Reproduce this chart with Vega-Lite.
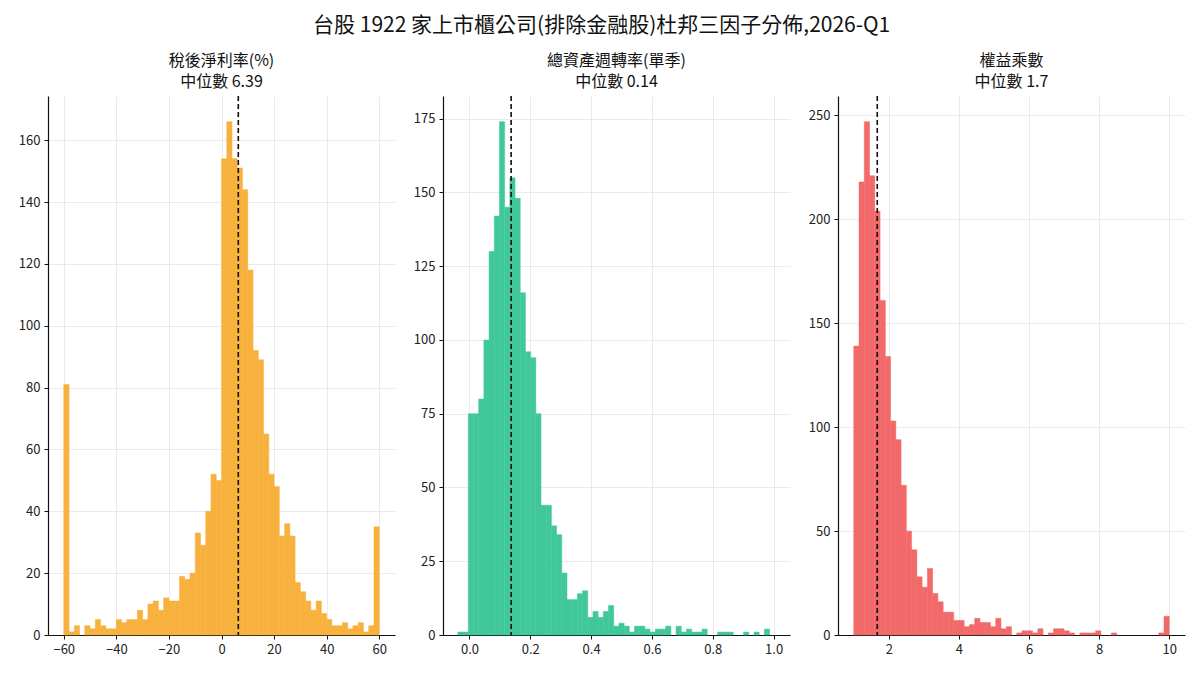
{
  "$schema": "https://vega.github.io/schema/vega-lite/v6.json",
  "padding": {"left": 18, "top": 15, "right": 10, "bottom": 5},
  "background": "white",
  "title": {
    "text": "台股 1922 家上市櫃公司(排除金融股)杜邦三因子分佈,2026-Q1",
    "fontSize": 21,
    "fontWeight": "normal",
    "font": "Noto Sans CJK TC",
    "color": "#111111",
    "anchor": "middle",
    "offset": 17
  },
  "bounds": "flush",
  "spacing": 48,
  "datasets": {
    "margin": [
      {"x0": -60, "x1": -58, "n": 81}, {"x0": -58, "x1": -56, "n": 1}, {"x0": -56, "x1": -54, "n": 3},
      {"x0": -52, "x1": -50, "n": 3}, {"x0": -50, "x1": -48, "n": 2}, {"x0": -48, "x1": -46, "n": 5},
      {"x0": -46, "x1": -44, "n": 3}, {"x0": -44, "x1": -42, "n": 2}, {"x0": -42, "x1": -40, "n": 2},
      {"x0": -40, "x1": -38, "n": 5}, {"x0": -38, "x1": -36, "n": 4}, {"x0": -36, "x1": -34, "n": 5},
      {"x0": -34, "x1": -32, "n": 5}, {"x0": -32, "x1": -30, "n": 8}, {"x0": -30, "x1": -28, "n": 5},
      {"x0": -28, "x1": -26, "n": 10}, {"x0": -26, "x1": -24, "n": 11}, {"x0": -24, "x1": -22, "n": 8},
      {"x0": -22, "x1": -20, "n": 12}, {"x0": -20, "x1": -18, "n": 11}, {"x0": -18, "x1": -16, "n": 11},
      {"x0": -16, "x1": -14, "n": 19}, {"x0": -14, "x1": -12, "n": 18}, {"x0": -12, "x1": -10, "n": 20},
      {"x0": -10, "x1": -8, "n": 33}, {"x0": -8, "x1": -6, "n": 29}, {"x0": -6, "x1": -4, "n": 40},
      {"x0": -4, "x1": -2, "n": 52}, {"x0": -2, "x1": 0, "n": 50}, {"x0": 0, "x1": 2, "n": 154},
      {"x0": 2, "x1": 4, "n": 166}, {"x0": 4, "x1": 6, "n": 154}, {"x0": 6, "x1": 8, "n": 151},
      {"x0": 8, "x1": 10, "n": 144}, {"x0": 10, "x1": 12, "n": 118}, {"x0": 12, "x1": 14, "n": 92},
      {"x0": 14, "x1": 16, "n": 89}, {"x0": 16, "x1": 18, "n": 65}, {"x0": 18, "x1": 20, "n": 52},
      {"x0": 20, "x1": 22, "n": 48}, {"x0": 22, "x1": 24, "n": 32}, {"x0": 24, "x1": 26, "n": 36},
      {"x0": 26, "x1": 28, "n": 32}, {"x0": 28, "x1": 30, "n": 17}, {"x0": 30, "x1": 32, "n": 14},
      {"x0": 32, "x1": 34, "n": 11}, {"x0": 34, "x1": 36, "n": 8}, {"x0": 36, "x1": 38, "n": 11},
      {"x0": 38, "x1": 40, "n": 7}, {"x0": 40, "x1": 42, "n": 5}, {"x0": 42, "x1": 44, "n": 3},
      {"x0": 44, "x1": 46, "n": 3}, {"x0": 46, "x1": 48, "n": 4}, {"x0": 48, "x1": 50, "n": 2},
      {"x0": 50, "x1": 52, "n": 3}, {"x0": 52, "x1": 54, "n": 4}, {"x0": 54, "x1": 56, "n": 1},
      {"x0": 56, "x1": 58, "n": 3}, {"x0": 58, "x1": 60, "n": 35}
    ],
    "turnover": [
      {"x0": -0.0380, "x1": -0.0209, "n": 1}, {"x0": -0.0209, "x1": -0.0038, "n": 1},
      {"x0": -0.0038, "x1": 0.0132, "n": 75}, {"x0": 0.0132, "x1": 0.0303, "n": 75},
      {"x0": 0.0303, "x1": 0.0474, "n": 80}, {"x0": 0.0474, "x1": 0.0645, "n": 100},
      {"x0": 0.0645, "x1": 0.0816, "n": 130}, {"x0": 0.0816, "x1": 0.0986, "n": 142},
      {"x0": 0.0986, "x1": 0.1157, "n": 174}, {"x0": 0.1157, "x1": 0.1328, "n": 145},
      {"x0": 0.1328, "x1": 0.1499, "n": 155}, {"x0": 0.1499, "x1": 0.1670, "n": 148},
      {"x0": 0.1670, "x1": 0.1840, "n": 116}, {"x0": 0.1840, "x1": 0.2011, "n": 96},
      {"x0": 0.2011, "x1": 0.2182, "n": 94}, {"x0": 0.2182, "x1": 0.2353, "n": 75},
      {"x0": 0.2353, "x1": 0.2524, "n": 44}, {"x0": 0.2524, "x1": 0.2694, "n": 44},
      {"x0": 0.2694, "x1": 0.2865, "n": 37}, {"x0": 0.2865, "x1": 0.3036, "n": 34},
      {"x0": 0.3036, "x1": 0.3207, "n": 21}, {"x0": 0.3207, "x1": 0.3378, "n": 12},
      {"x0": 0.3378, "x1": 0.3548, "n": 12}, {"x0": 0.3548, "x1": 0.3719, "n": 14},
      {"x0": 0.3719, "x1": 0.3890, "n": 15}, {"x0": 0.3890, "x1": 0.4061, "n": 6},
      {"x0": 0.4061, "x1": 0.4232, "n": 8}, {"x0": 0.4232, "x1": 0.4402, "n": 6},
      {"x0": 0.4402, "x1": 0.4573, "n": 8}, {"x0": 0.4573, "x1": 0.4744, "n": 10},
      {"x0": 0.4744, "x1": 0.4915, "n": 3}, {"x0": 0.4915, "x1": 0.5086, "n": 4},
      {"x0": 0.5086, "x1": 0.5256, "n": 3}, {"x0": 0.5256, "x1": 0.5427, "n": 1},
      {"x0": 0.5427, "x1": 0.5598, "n": 3}, {"x0": 0.5598, "x1": 0.5769, "n": 3},
      {"x0": 0.5769, "x1": 0.5940, "n": 2}, {"x0": 0.5940, "x1": 0.6110, "n": 1},
      {"x0": 0.6110, "x1": 0.6281, "n": 2}, {"x0": 0.6281, "x1": 0.6452, "n": 2},
      {"x0": 0.6452, "x1": 0.6623, "n": 3}, {"x0": 0.6794, "x1": 0.6964, "n": 3},
      {"x0": 0.6964, "x1": 0.7135, "n": 1}, {"x0": 0.7135, "x1": 0.7306, "n": 2},
      {"x0": 0.7306, "x1": 0.7477, "n": 1}, {"x0": 0.7477, "x1": 0.7648, "n": 1},
      {"x0": 0.7648, "x1": 0.7818, "n": 2}, {"x0": 0.8160, "x1": 0.8331, "n": 1},
      {"x0": 0.8331, "x1": 0.8502, "n": 1}, {"x0": 0.8502, "x1": 0.8672, "n": 1},
      {"x0": 0.9014, "x1": 0.9185, "n": 1}, {"x0": 0.9356, "x1": 0.9526, "n": 1},
      {"x0": 0.9697, "x1": 0.9868, "n": 2}
    ],
    "leverage": [
      {"x0": 1.00, "x1": 1.15, "n": 139}, {"x0": 1.15, "x1": 1.30, "n": 218}, {"x0": 1.30, "x1": 1.45, "n": 247},
      {"x0": 1.45, "x1": 1.60, "n": 221}, {"x0": 1.60, "x1": 1.75, "n": 204}, {"x0": 1.75, "x1": 1.90, "n": 161},
      {"x0": 1.90, "x1": 2.05, "n": 134}, {"x0": 2.05, "x1": 2.20, "n": 103}, {"x0": 2.20, "x1": 2.35, "n": 94},
      {"x0": 2.35, "x1": 2.50, "n": 72}, {"x0": 2.50, "x1": 2.65, "n": 50}, {"x0": 2.65, "x1": 2.80, "n": 41},
      {"x0": 2.80, "x1": 2.95, "n": 28}, {"x0": 2.95, "x1": 3.10, "n": 23}, {"x0": 3.10, "x1": 3.25, "n": 32},
      {"x0": 3.25, "x1": 3.40, "n": 20}, {"x0": 3.40, "x1": 3.55, "n": 16}, {"x0": 3.55, "x1": 3.70, "n": 11},
      {"x0": 3.70, "x1": 3.85, "n": 11}, {"x0": 3.85, "x1": 4.00, "n": 7}, {"x0": 4.00, "x1": 4.15, "n": 7},
      {"x0": 4.15, "x1": 4.30, "n": 4}, {"x0": 4.30, "x1": 4.45, "n": 5}, {"x0": 4.45, "x1": 4.60, "n": 8},
      {"x0": 4.60, "x1": 4.75, "n": 6}, {"x0": 4.75, "x1": 4.90, "n": 6}, {"x0": 4.90, "x1": 5.05, "n": 4},
      {"x0": 5.05, "x1": 5.20, "n": 8}, {"x0": 5.20, "x1": 5.35, "n": 3}, {"x0": 5.35, "x1": 5.50, "n": 4},
      {"x0": 5.65, "x1": 5.80, "n": 1}, {"x0": 5.80, "x1": 5.95, "n": 2}, {"x0": 5.95, "x1": 6.10, "n": 2},
      {"x0": 6.10, "x1": 6.25, "n": 1}, {"x0": 6.25, "x1": 6.40, "n": 3}, {"x0": 6.55, "x1": 6.70, "n": 1},
      {"x0": 6.70, "x1": 6.85, "n": 3}, {"x0": 6.85, "x1": 7.00, "n": 3}, {"x0": 7.00, "x1": 7.15, "n": 2},
      {"x0": 7.15, "x1": 7.30, "n": 1}, {"x0": 7.45, "x1": 7.60, "n": 1}, {"x0": 7.60, "x1": 7.75, "n": 1},
      {"x0": 7.75, "x1": 7.90, "n": 1}, {"x0": 7.90, "x1": 8.05, "n": 2}, {"x0": 8.35, "x1": 8.50, "n": 1},
      {"x0": 9.70, "x1": 9.85, "n": 1}, {"x0": 9.85, "x1": 10.00, "n": 9}
    ]
  },
  "hconcat": [
    {
      "width": 347,
      "height": 539,
      "title": {"text": ["稅後淨利率(%)", "中位數 6.39"]},
      "layer": [
        {
          "data": {"name": "margin"},
          "mark": {"type": "rect", "color": "#F7B13C", "stroke": "#F7B13C", "strokeWidth": 0.5},
          "encoding": {
            "x": {"field": "x0", "type": "quantitative", "title": null,
                  "scale": {"domain": [-66, 66], "nice": false, "zero": false},
                  "axis": {"values": [-60, -40, -20, 0, 20, 40, 60]}},
            "x2": {"field": "x1"},
            "y": {"field": "n", "type": "quantitative", "title": null,
                  "scale": {"domain": [0, 174.3], "nice": false},
                  "axis": {"values": [0, 20, 40, 60, 80, 100, 120, 140, 160]}},
            "y2": {"datum": 0}
          }
        },
        {
          "data": {"values": [{"median": 6.39}]},
          "mark": {"type": "rule", "color": "#111111", "strokeWidth": 1.6, "strokeDash": [5, 3]},
          "encoding": {"x": {"field": "median", "type": "quantitative"}}
        }
      ]
    },
    {
      "width": 347,
      "height": 539,
      "title": {"text": ["總資產週轉率(單季)", "中位數 0.14"]},
      "layer": [
        {
          "data": {"name": "turnover"},
          "mark": {"type": "rect", "color": "#40C79A", "stroke": "#40C79A", "strokeWidth": 0.5},
          "encoding": {
            "x": {"field": "x0", "type": "quantitative", "title": null,
                  "scale": {"domain": [-0.087, 1.054], "nice": false, "zero": false},
                  "axis": {"values": [0, 0.2, 0.4, 0.6, 0.8, 1.0], "format": ".1f"}},
            "x2": {"field": "x1"},
            "y": {"field": "n", "type": "quantitative", "title": null,
                  "scale": {"domain": [0, 182.7], "nice": false},
                  "axis": {"values": [0, 25, 50, 75, 100, 125, 150, 175]}},
            "y2": {"datum": 0}
          }
        },
        {
          "data": {"values": [{"median": 0.137}]},
          "mark": {"type": "rule", "color": "#111111", "strokeWidth": 1.6, "strokeDash": [5, 3]},
          "encoding": {"x": {"field": "median", "type": "quantitative"}}
        }
      ]
    },
    {
      "width": 347,
      "height": 539,
      "title": {"text": ["權益乘數", "中位數 1.7"]},
      "layer": [
        {
          "data": {"name": "leverage"},
          "mark": {"type": "rect", "color": "#F26969", "stroke": "#F26969", "strokeWidth": 0.5},
          "encoding": {
            "x": {"field": "x0", "type": "quantitative", "title": null,
                  "scale": {"domain": [0.55, 10.45], "nice": false, "zero": false},
                  "axis": {"values": [2, 4, 6, 8, 10]}},
            "x2": {"field": "x1"},
            "y": {"field": "n", "type": "quantitative", "title": null,
                  "scale": {"domain": [0, 259.35], "nice": false},
                  "axis": {"values": [0, 50, 100, 150, 200, 250]}},
            "y2": {"datum": 0}
          }
        },
        {
          "data": {"values": [{"median": 1.67}]},
          "mark": {"type": "rule", "color": "#111111", "strokeWidth": 1.6, "strokeDash": [5, 3]},
          "encoding": {"x": {"field": "median", "type": "quantitative"}}
        }
      ]
    }
  ],
  "config": {
    "font": "Noto Sans CJK TC",
    "view": {"stroke": null},
    "title": {
      "fontSize": 16,
      "fontWeight": "normal",
      "font": "Noto Sans CJK TC",
      "color": "#111111",
      "lineHeight": 21,
      "offset": 5
    },
    "axis": {
      "labelFont": "Noto Sans CJK TC",
      "labelFontSize": 13,
      "labelColor": "#222222",
      "domainColor": "#111111",
      "domainWidth": 1.2,
      "tickColor": "#111111",
      "tickSize": 4,
      "labelPadding": 4,
      "gridColor": "#e6e6e6",
      "gridWidth": 0.8
    },
    "axisX": {"grid": true},
    "axisY": {"grid": true}
  }
}
